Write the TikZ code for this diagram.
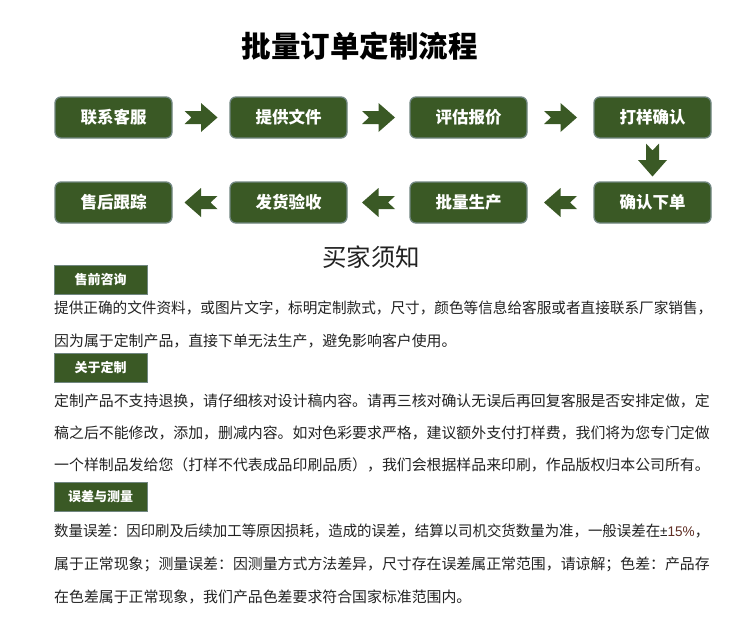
\documentclass[tikz,border=0pt]{standalone}
\usepackage{fontspec}
\setmainfont{Noto Sans CJK SC}
\newfontfamily\latinfont{Liberation Sans}
\usepackage{xcolor,graphicx}
\usetikzlibrary{positioning,calc}

\definecolor{flowgreen}{RGB}{58,89,37}
\definecolor{edgegray}{RGB}{112,134,128}
\definecolor{inkgray}{RGB}{34,34,34}
\definecolor{rateink}{RGB}{95,45,35}

\tikzset{
  blockarrow/.pic={
    \fill[flowgreen] (-16.5,-6.5) -- (0,-6.5) -- (0,-14.5) -- (16.5,0)
      -- (0,14.5) -- (0,6.5) -- (-16.5,6.5) -- (-9.5,0) -- cycle;
  }
}

\begin{document}
\begin{tikzpicture}[x=1pt,y=-1pt,
  stepbox/.style={draw=edgegray,line width=1.3pt,fill=flowgreen,rounded corners=6pt,
    minimum width=117pt,minimum height=41pt,inner sep=0pt,text=white,
    font=\fontsize{16.5}{18}\selectfont\bfseries},
  tagbox/.style={draw=edgegray,line width=1pt,fill=flowgreen,
    minimum width=93pt,minimum height=29pt,inner sep=0pt,text=white,
    font=\fontsize{13}{15}\selectfont\bfseries},
  textline/.style={anchor=west,inner sep=0pt,text=inkgray,
    font=\fontsize{14.9}{18}\selectfont}]
  \useasboundingbox (0,0) rectangle (752,621);

  % title
  \node[font=\fontsize{29.5}{32}\selectfont\bfseries] (title) at (359.5,46.5) {批量订单定制流程};

  % flow, first row left to right, second row right to left
  \node[stepbox] (contact) at (113.5,117.5) {联系客服};
  \node[stepbox] (files)   at (288.5,117.5) {提供文件};
  \node[stepbox] (quote)   at (468.5,117.5) {评估报价};
  \node[stepbox] (sample)  at (652.5,117.5) {打样确认};
  \node[stepbox] (confirm) at (652.5,202.5) {确认下单};
  \node[stepbox] (produce) at (468.5,202.5) {批量生产};
  \node[stepbox] (ship)    at (288.5,202.5) {发货验收};
  \node[stepbox] (after)   at (113.5,202.5) {售后跟踪};

  \foreach \a/\b in {contact/files,files/quote,quote/sample}
    \pic at ($(\a.east)!0.5!(\b.west)$) {blockarrow};
  \pic[rotate=-90] at ($(sample.south)!0.5!(confirm.north)$) {blockarrow};
  \foreach \a/\b in {confirm/produce,produce/ship,ship/after}
    \pic[rotate=180] at ($(\a.west)!0.5!(\b.east)$) {blockarrow};

  % notes
  \node[font=\fontsize{24.5}{28}\selectfont,text=inkgray] (notes) at (371,257.5) {买家须知};

  \node[tagbox] (presale) at (100.5,279.5) {售前咨询};
  \node[textline] (presale1) at (54,308) {\resizebox{658pt}{\height}{提供正确的文件资料，或图片文字，标明定制款式，尺寸，颜色等信息给客服或者直接联系厂家销售，}};
  \node[textline] (presale2) at (54,341) {因为属于定制产品，直接下单无法生产，避免影响客户使用。};

  \node[tagbox] (custom) at (100.5,367.5) {关于定制};
  \node[textline] (custom1) at (54,401) {定制产品不支持退换，请仔细核对设计稿内容。请再三核对确认无误后再回复客服是否安排定做，定};
  \node[textline] (custom2) at (54,432.5) {稿之后不能修改，添加，删减内容。如对色彩要求严格，建议额外支付打样费，我们将为您专门定做};
  \node[textline] (custom3) at (54,464.5) {一个样制品发给您（打样不代表成品印刷品质），我们会根据样品来印刷，作品版权归本公司所有。};

  \node[tagbox] (tolerance) at (100.5,496.5) {误差与测量};
  \node[textline] (tolerance1) at (54,531) {\resizebox{655pt}{\height}{数量误差：因印刷及后续加工等原因损耗，造成的误差，结算以司机交货数量为准，一般误差在{\latinfont\fontsize{14}{15}\selectfont ±\textcolor{rateink}{15\%}}，}};
  \node[textline] (tolerance2) at (54,564) {属于正常现象；测量误差：因测量方式方法差异，尺寸存在误差属正常范围，请谅解；色差：产品存};
  \node[textline] (tolerance3) at (54,597) {在色差属于正常现象，我们产品色差要求符合国家标准范围内。};
\end{tikzpicture}
\end{document}
